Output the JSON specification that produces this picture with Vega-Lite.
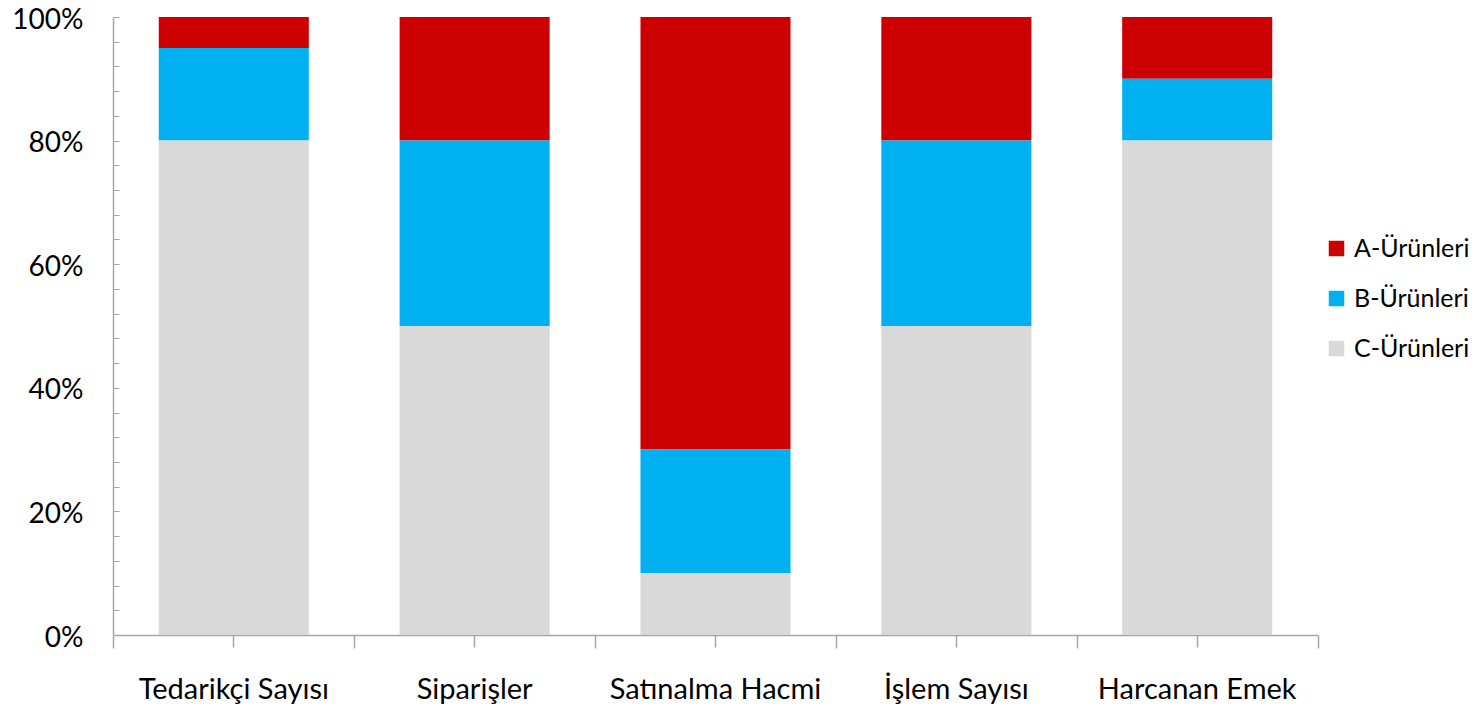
{
  "$schema": "https://vega.github.io/schema/vega-lite/v6.json",
  "autosize": "none",
  "width": 1205,
  "height": 618,
  "padding": {"left": 113, "top": 17, "right": 162, "bottom": 73},
  "background": "white",
  "config": {
    "view": {"stroke": null},
    "font": "Lato",
    "axis": {"labelFont": "Lato", "labelColor": "#000000", "domainColor": "#A6A6A6", "tickColor": "#A6A6A6", "grid": false, "title": null, "labelLimit": 0},
    "legend": {"labelFont": "Lato", "labelColor": "#000000", "labelLimit": 0}
  },
  "data": {
    "values": [
      {"Kategori": "Tedarikçi Sayısı", "Seri": "A-Ürünleri", "Deger": 5},
      {"Kategori": "Tedarikçi Sayısı", "Seri": "B-Ürünleri", "Deger": 15},
      {"Kategori": "Tedarikçi Sayısı", "Seri": "C-Ürünleri", "Deger": 80},
      {"Kategori": "Siparişler", "Seri": "A-Ürünleri", "Deger": 20},
      {"Kategori": "Siparişler", "Seri": "B-Ürünleri", "Deger": 30},
      {"Kategori": "Siparişler", "Seri": "C-Ürünleri", "Deger": 50},
      {"Kategori": "Satınalma Hacmi", "Seri": "A-Ürünleri", "Deger": 70},
      {"Kategori": "Satınalma Hacmi", "Seri": "B-Ürünleri", "Deger": 20},
      {"Kategori": "Satınalma Hacmi", "Seri": "C-Ürünleri", "Deger": 10},
      {"Kategori": "İşlem Sayısı", "Seri": "A-Ürünleri", "Deger": 20},
      {"Kategori": "İşlem Sayısı", "Seri": "B-Ürünleri", "Deger": 30},
      {"Kategori": "İşlem Sayısı", "Seri": "C-Ürünleri", "Deger": 50},
      {"Kategori": "Harcanan Emek", "Seri": "A-Ürünleri", "Deger": 10},
      {"Kategori": "Harcanan Emek", "Seri": "B-Ürünleri", "Deger": 10},
      {"Kategori": "Harcanan Emek", "Seri": "C-Ürünleri", "Deger": 80}
    ]
  },
  "layer": [
    {
      "mark": {"type": "bar"},
      "encoding": {
        "x": {
          "field": "Kategori", "type": "nominal", "sort": null,
          "scale": {"paddingInner": 0.377, "paddingOuter": 0.19},
          "axis": {"labelAngle": 0, "labelFontSize": 29, "tickBand": "center", "tickSize": 12, "labelPadding": 28, "domainWidth": 1.5, "tickWidth": 1.5, "orient": "bottom"}
        },
        "y": {
          "field": "Deger", "type": "quantitative", "stack": "normalize",
          "scale": {"domain": [0, 1], "nice": false},
          "axis": {
            "values": [0, 0.04, 0.08, 0.12, 0.16, 0.2, 0.24, 0.28, 0.32, 0.36, 0.4, 0.44, 0.48, 0.52, 0.56, 0.6, 0.64, 0.68, 0.72, 0.76, 0.8, 0.84, 0.88, 0.92, 0.96, 1],
            "labelExpr": "round(datum.value*100) % 20 == 0 ? format(datum.value, '.0%') : ''",
            "labelFontSize": 28, "labelOffset": 3, "tickSize": -6, "labelPadding": 36, "domainWidth": 1.5, "tickWidth": 1
          }
        },
        "color": {
          "field": "Seri", "type": "nominal",
          "scale": {"domain": ["A-Ürünleri", "B-Ürünleri", "C-Ürünleri"], "range": ["#CC0000", "#00B0F0", "#D9D9D9"]},
          "legend": {"title": null, "orient": "none", "legendX": 1211, "legendY": 219, "labelFontSize": 25, "symbolType": "square", "symbolSize": 240, "symbolStrokeWidth": 0, "rowPadding": 24, "labelOffset": 5}
        },
        "order": {"field": "Seri", "sort": "descending"}
      }
    },
    {
      "mark": {"type": "rule", "opacity": 0},
      "encoding": {
        "x": {
          "field": "Kategori", "type": "nominal", "sort": null,
          "scale": {"paddingInner": 0, "paddingOuter": 0},
          "axis": {"orient": "bottom", "labels": false, "domain": false, "tickBand": "extent", "tickSize": 13, "tickWidth": 1.5}
        }
      }
    }
  ],
  "resolve": {"scale": {"x": "independent"}, "axis": {"x": "independent"}}
}
